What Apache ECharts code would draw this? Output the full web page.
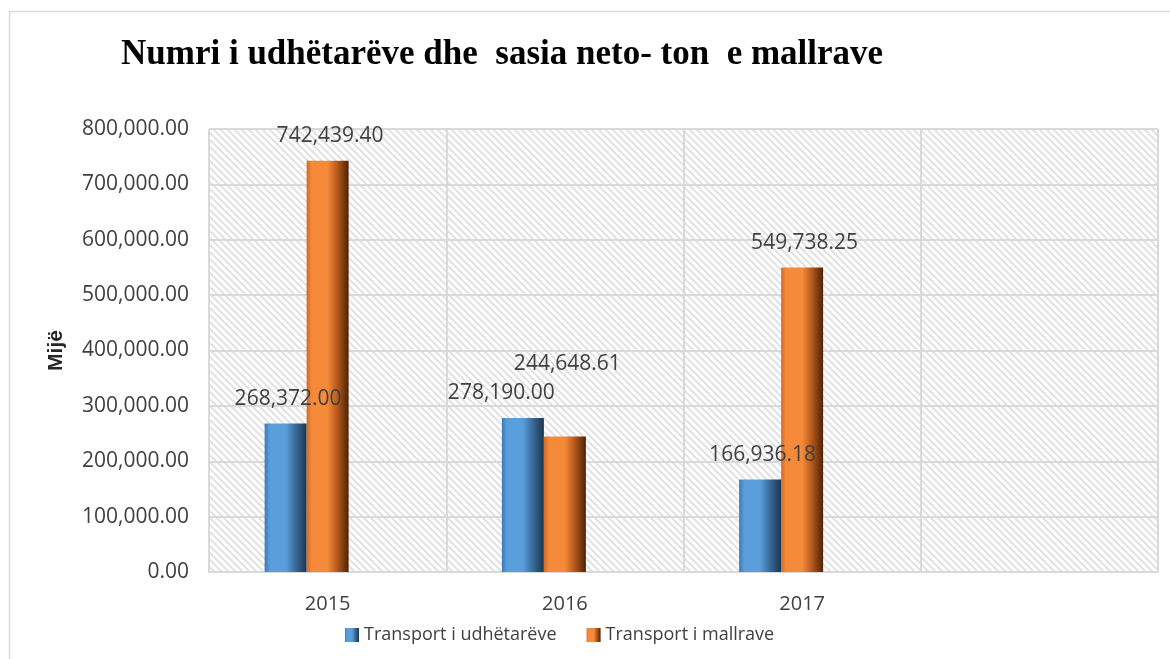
<!DOCTYPE html>
<html>
<head>
<meta charset="utf-8">
<script src="https://cdn.jsdelivr.net/npm/echarts@6/dist/echarts.min.js"></script>
<style>
    html, body { margin: 0; padding: 0; background: #fff; }
    #bar { width: 1170px; height: 659px; }
</style>
</head>
<body>
<div id="bar"></div>
<script>
// 数据
var years = ['2015', '2016', '2017', ''];
var udhetaret = [268372.00, 278190.00, 166936.18];
var mallrat = [742439.40, 244648.61, 549738.25];
var seriesNames = ['Transport i udhëtarëve', 'Transport i mallrave'];

// 背景斜线纹理
function hatch() {
    var c = document.createElement('canvas');
    c.width = 7; c.height = 7;
    var ctx = c.getContext('2d');
    ctx.fillStyle = '#ffffff';
    ctx.fillRect(0, 0, 7, 7);
    ctx.strokeStyle = '#e2e2e2';
    ctx.lineWidth = 2;
    ctx.beginPath();
    ctx.moveTo(-2, -2); ctx.lineTo(9, 9);
    ctx.moveTo(-9, -2); ctx.lineTo(2, 9);
    ctx.moveTo(5, -2); ctx.lineTo(16, 9);
    ctx.stroke();
    return { image: c, repeat: 'repeat' };
}

function bevel(a, b, c, d) {
    return new echarts.graphic.LinearGradient(0, 0, 1, 0, [
        { offset: 0, color: a },
        { offset: 0.12, color: b },
        { offset: 0.5, color: b },
        { offset: 0.72, color: c },
        { offset: 1, color: d }
    ]);
}
var blueFill = bevel('#3c79b6', '#5b9edc', '#3a6e9f', '#1b3550');
var orangeFill = bevel('#d56a22', '#f48a3a', '#b95b1d', '#4c2307');

function fmt(v) {
    return v.toLocaleString('en-US', { minimumFractionDigits: 2, maximumFractionDigits: 2 });
}

// 标签位置微调
function withLabels(values, shifts) {
    return values.map(function (v, i) {
        var item = { value: v };
        if (shifts[i]) item.label = { offset: shifts[i] };
        return item;
    });
}

var myChart = echarts.init(document.getElementById('bar'));
myChart.setOption({
    textStyle: { fontFamily: 'Open Sans' },
    graphic: [{
        type: 'rect',
        shape: { x: 9.5, y: 11.5, width: 1170, height: 660 },
        style: { fill: 'none', stroke: '#d9d9d9', lineWidth: 1.5 },
        silent: true
    }],
    title: {
        text: 'Numri i udhëtarëve dhe  sasia neto- ton  e mallrave',
        left: 116,
        top: 32,
        textStyle: {
            fontFamily: 'Liberation Serif',
            fontWeight: 'bold',
            fontSize: 35,
            color: '#000'
        }
    },
    grid: {  //表格边距
        left: 209,
        right: 12,
        top: 129,
        bottom: 87,
        show: true,
        backgroundColor: hatch(),
        borderWidth: 0
    },
    legend: {
        data: seriesNames,
        left: 340,
        top: 621,
        itemWidth: 14,
        itemHeight: 14,
        itemGap: 30,
        icon: 'rect',
        textStyle: { fontSize: 18, color: '#404040', fontFamily: 'Open Sans' }
    },
    xAxis: {
        type: 'category',
        data: years,
        axisLine: { lineStyle: { color: '#d9d9d9', width: 2 } },
        axisTick: { show: false },
        axisLabel: { fontSize: 20, color: '#404040', margin: 22 },
        splitLine: { show: true, interval: 0, lineStyle: { color: '#d9d9d9', width: 2 } }
    },
    yAxis: {
        type: 'value',
        min: 0,
        max: 800000,
        interval: 100000,
        name: 'Mijë',
        nameLocation: 'middle',
        nameGap: 142,
        nameTextStyle: { fontFamily: 'Liberation Sans', fontWeight: 'bold', fontSize: 21, color: '#262626' },
        axisLine: { show: false },
        axisTick: { show: false },
        axisLabel: { fontSize: 21, color: '#404040', margin: 20, formatter: fmt },
        splitLine: { lineStyle: { color: '#d9d9d9', width: 2 } }
    },
    series: [{
        name: seriesNames[0],
        type: 'bar',
        barWidth: 42,
        barGap: 0,
        data: withLabels(udhetaret, [null, [-21.5, 0], null]),
        itemStyle: { color: blueFill },
        label: {
            show: true, position: 'top', distance: 14, offset: [2.5, 0],
            fontSize: 21, color: '#404040', formatter: function (p) { return fmt(p.value); }
        }
    }, {
        name: seriesNames[1],
        type: 'bar',
        barWidth: 42,
        barGap: 0,
        data: withLabels(mallrat, [null, [2.5, -48], null]),
        itemStyle: { color: orangeFill },
        label: {
            show: true, position: 'top', distance: 14, offset: [2.5, 0],
            fontSize: 21, color: '#404040', formatter: function (p) { return fmt(p.value); }
        }
    }, {
        // 空的第三个系列, 使柱子偏左
        name: 'bosh',
        type: 'bar',
        barWidth: 42,
        barGap: 0,
        data: []
    }]
});
</script>
</body>
</html>
